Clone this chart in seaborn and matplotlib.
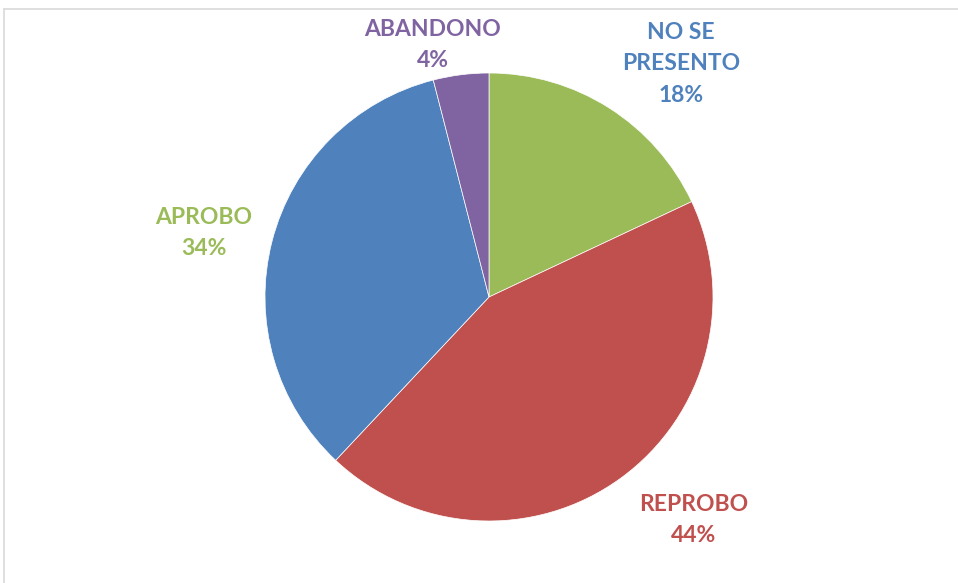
import matplotlib
matplotlib.use("Agg")
import matplotlib.pyplot as plt
from matplotlib.lines import Line2D
import seaborn as sns

# slice data, clockwise from 12 o'clock
categories = ["NO SE PRESENTO", "REPROBO", "APROBO", "ABANDONO"]
percent = [18, 44, 34, 4]
slice_colors = ["#9BBB59", "#C0504D", "#4F81BD", "#8064A2"]

# data labels as they appear in the chart (text colours swapped in the original)
label_text = ["NO SE\nPRESENTO\n18%", "REPROBO\n44%", "APROBO\n34%", "ABANDONO\n4%"]
label_colors = ["#4F81BD", "#C0504D", "#9BBB59", "#8064A2"]
label_pos = [(681, 519), (694, 63), (204, 350), (433, 538)]

sns.set_theme(style="white")
plt.rcParams["font.family"] = ["Lato", "DejaVu Sans"]

fig = plt.figure(figsize=(9.58, 5.83), dpi=100)
ax = fig.add_axes([0, 0, 1, 1])

ax.pie(percent, colors=slice_colors, startangle=90, counterclock=False,
       center=(489, 286), radius=224, frame=True,
       wedgeprops=dict(linewidth=0.5, edgecolor="white"))
ax.set_xlim(0, 958)
ax.set_ylim(0, 583)
ax.set_aspect("equal")
ax.axis("off")

for txt, col, (x, y) in zip(label_text, label_colors, label_pos):
    ax.text(x, y, txt, color=col, fontsize=16.5, fontweight="bold",
            ha="center", va="center", linespacing=1.62)

# chart area border (top and left visible)
fig.add_artist(Line2D([4 / 958, 1], [1 - 9 / 583, 1 - 9 / 583], color="#D9D9D9", lw=1.2))
fig.add_artist(Line2D([4 / 958, 4 / 958], [0, 1 - 9 / 583], color="#D9D9D9", lw=1.2))

fig.savefig("out.png", dpi=100)
